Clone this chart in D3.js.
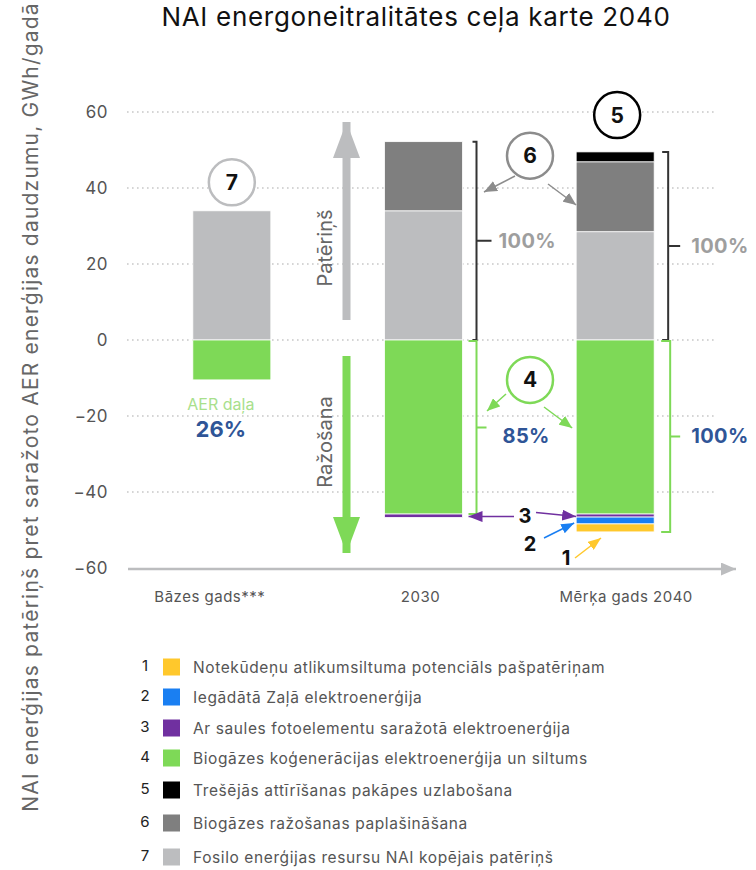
<!DOCTYPE html>
<html>
<head>
<meta charset="utf-8">
<script src="https://cdn.jsdelivr.net/npm/d3@7"></script>
<style>
    body { margin: 0; background: #fff; }
    svg { font-family: Inter, "Open Sans", sans-serif; }
</style>
</head>
<body>
<div id="chart"></div>
<script>
// chart values
var categories = ["Bāzes gads***", "2030", "Mērķa gads 2040"];
var fossil = [34, 34, 28.5];          // 7
var biogasExpansion = [0, 18.2, 18.4]; // 6
var tertiary = [0, 0, 2.6];            // 5
var biogasChp = [-10.5, -45.8, -45.8]; // 4
var solar = [0, -0.9, -0.8];           // 3
var greenPower = [0, 0, -1.8];         // 2
var wastewaterHeat = [0, 0, -2.1];     // 1
var yTicks = [-60, -40, -20, 0, 20, 40, 60];
var gridTicks = [-40, -20, 0, 20, 40, 60];

var legendItems = [
    { n: "1", key: "wastewaterHeat", text: "Notekūdeņu atlikumsiltuma potenciāls pašpatēriņam" },
    { n: "2", key: "greenPower", text: "Iegādātā Zaļā elektroenerģija" },
    { n: "3", key: "solar", text: "Ar saules fotoelementu saražotā elektroenerģija" },
    { n: "4", key: "biogasChp", text: "Biogāzes koģenerācijas elektroenerģija un siltums" },
    { n: "5", key: "tertiary", text: "Trešējās attīrīšanas pakāpes uzlabošana" },
    { n: "6", key: "biogasExpansion", text: "Biogāzes ražošanas paplašināšana" },
    { n: "7", key: "fossil", text: "Fosilo enerģijas resursu NAI kopējais patēriņš" }
];

var colors = {
    fossil: "#bcbdbf",
    biogasExpansion: "#7f7f7f",
    tertiary: "#000000",
    biogasChp: "#7ed957",
    solar: "#7030a0",
    greenPower: "#1a7ff2",
    wastewaterHeat: "#ffc82c"
};

var width = 756;
var height = 870;

var svg = d3.select("#chart")
    .append("svg")
    .attr("width", width)
    .attr("height", height);

var x = d3.scaleBand()
    .domain(categories)
    .range([136, 711])
    .paddingInner(0.593)
    .paddingOuter(0.2965);

var y = d3.scaleLinear()
    .domain([-60, 60])
    .range([568, 112]);

var keys = ["fossil", "biogasExpansion", "tertiary", "biogasChp", "solar", "greenPower", "wastewaterHeat"];
var series = { fossil: fossil, biogasExpansion: biogasExpansion, tertiary: tertiary, biogasChp: biogasChp,
    solar: solar, greenPower: greenPower, wastewaterHeat: wastewaterHeat };

var rows = categories.map(function (c, i) {
    var r = { cat: c };
    keys.forEach(function (k) { r[k] = series[k][i]; });
    return r;
});

var stacked = d3.stack().keys(keys).offset(d3.stackOffsetDiverging)(rows);

// arrow heads
var defs = svg.append("defs");
function marker(id, color, w, h) {
    defs.append("marker")
        .attr("id", id)
        .attr("viewBox", "0 0 10 10")
        .attr("refX", 10)
        .attr("refY", 5)
        .attr("markerUnits", "userSpaceOnUse")
        .attr("markerWidth", w)
        .attr("markerHeight", h)
        .attr("preserveAspectRatio", "none")
        .attr("orient", "auto")
        .append("path")
        .attr("d", "M0,0 L10,5 L0,10 Z")
        .attr("fill", color);
}
marker("m-gray", "#8c8c8c", 13, 11);
marker("m-green", "#7ed957", 13, 11);
marker("m-purple", "#7030a0", 14, 11);
marker("m-blue", "#1a7ff2", 13, 10);
marker("m-yellow", "#ffc82c", 13, 10);
marker("m-axis", "#bcbdbf", 15, 13);
marker("m-bigGray", "#bcbdbf", 36, 27);
marker("m-bigGreen", "#7ed957", 36, 27);

// title
svg.append("text")
    .attr("x", 416)
    .attr("y", 26)
    .attr("text-anchor", "middle")
    .style("font-size", "26px")
    .style("letter-spacing", "0.7px")
    .style("fill", "#111")
    .text("NAI energoneitralitātes ceļa karte 2040");

// y axis title
svg.append("text")
    .attr("transform", "translate(38,407) rotate(-90)")
    .attr("text-anchor", "middle")
    .style("font-size", "21px")
    .style("letter-spacing", "1.2px")
    .style("fill", "#666")
    .text("NAI enerģijas patēriņš pret saražoto AER enerģijas daudzumu, GWh/gadā");

// grid
svg.append("g")
    .selectAll("line")
    .data(gridTicks)
    .enter()
    .append("line")
    .attr("x1", 127)
    .attr("x2", 715)
    .attr("y1", function (d) { return y(d); })
    .attr("y2", function (d) { return y(d); })
    .style("stroke", "#c8c8c8")
    .style("stroke-width", 1.6)
    .style("stroke-dasharray", "1.6,3.4");

// y axis labels
var yAxis = svg.append("g")
    .attr("transform", "translate(111,0)")
    .call(d3.axisLeft(y).tickValues(yTicks).tickSize(0).tickPadding(3));
yAxis.select(".domain").remove();
yAxis.selectAll("text")
    .style("font-family", "Inter, sans-serif")
    .style("font-size", "17px")
    .style("letter-spacing", "0.5px")
    .style("fill", "#555");

// x axis line with arrow
svg.append("line")
    .attr("x1", 128)
    .attr("x2", 736)
    .attr("y1", y(-60) + 1)
    .attr("y2", y(-60) + 1)
    .style("stroke", "#bcbdbf")
    .style("stroke-width", 2.5)
    .attr("marker-end", "url(#m-axis)");

var labelShift = [-22, -3, 11];
svg.append("g")
    .selectAll("text")
    .data(categories)
    .enter()
    .append("text")
    .attr("x", function (d, i) { return x(d) + x.bandwidth() / 2 + labelShift[i]; })
    .attr("y", 602)
    .attr("text-anchor", "middle")
    .style("font-size", "15px")
    .style("letter-spacing", "0.5px")
    .style("fill", "#555")
    .text(function (d) { return d; });

// bars
svg.append("g")
    .selectAll("g")
    .data(stacked)
    .enter()
    .append("g")
    .style("fill", function (s) { return colors[s.key]; })
    .selectAll("rect")
    .data(function (s) { return s.filter(function (d) { return d[1] - d[0] !== 0; }); })
    .enter()
    .append("rect")
    .attr("x", function (d) { return x(d.data.cat); })
    .attr("width", x.bandwidth())
    .attr("y", function (d) { return y(d[1]); })
    .attr("height", function (d) { return y(d[0]) - y(d[1]); })
    .style("stroke", "#fff")
    .style("stroke-width", 0.8);

// big direction arrows
var ax = 346.5;
svg.append("line")
    .attr("x1", ax).attr("x2", ax)
    .attr("y1", 320).attr("y2", 122)
    .style("stroke", "#bcbdbf")
    .style("stroke-width", 8)
    .attr("marker-end", "url(#m-bigGray)");
svg.append("line")
    .attr("x1", ax).attr("x2", ax)
    .attr("y1", 356).attr("y2", 553)
    .style("stroke", "#7ed957")
    .style("stroke-width", 8)
    .attr("marker-end", "url(#m-bigGreen)");

svg.append("text")
    .attr("transform", "translate(332,248) rotate(-90)")
    .attr("text-anchor", "middle")
    .style("font-size", "20px")
    .style("fill", "#666")
    .text("Patēriņš");
svg.append("text")
    .attr("transform", "translate(332,442) rotate(-90)")
    .attr("text-anchor", "middle")
    .style("font-size", "20px")
    .style("fill", "#666")
    .text("Ražošana");

// brackets
function posTotal(i) { return fossil[i] + biogasExpansion[i] + tertiary[i]; }
function bracket(xb, yTop, yBot, color, tickLeft, tickRight) {
    var midY = (yTop + yBot) / 2;
    svg.append("path")
        .attr("d", "M" + (xb - tickLeft) + "," + yTop + " H" + xb + " V" + yBot + " H" + (xb - tickLeft) +
            " M" + xb + "," + midY + " H" + (xb + tickRight))
        .style("fill", "none")
        .style("stroke", color)
        .style("stroke-width", 2);
    return midY;
}
function pctLabel(px, py, txt, color) {
    svg.append("text")
        .attr("x", px)
        .attr("y", py)
        .attr("dy", "0.35em")
        .style("font-size", "20px")
        .style("font-weight", "bold")
        .style("letter-spacing", "0.4px")
        .style("fill", color)
        .text(txt);
}

var r2030 = x(categories[1]) + x.bandwidth();
var r2040 = x(categories[2]) + x.bandwidth();

var m1 = bracket(r2030 + 14, y(posTotal(1)), y(0), "#333", 4, 15);
pctLabel(r2030 + 36, m1, "100%", "#9e9e9e");
var m2 = bracket(r2030 + 14, y(0) + 1, y(biogasChp[1]), "#7ed957", 8, 10);
pctLabel(r2030 + 40, m2 + 8, "85%", "#2f5597");
var m3 = bracket(r2040 + 14, y(posTotal(2)), y(0), "#333", 6, 12);
pctLabel(r2040 + 37, m3, "100%", "#9e9e9e");
var negTotal2040 = biogasChp[2] + solar[2] + greenPower[2] + wastewaterHeat[2];
var m4 = bracket(r2040 + 16, y(0) + 1, y(negTotal2040), "#7ed957", 9, 10);
pctLabel(r2040 + 37, m4, "100%", "#2f5597");

// base year share label
var cBase = x(categories[0]) + x.bandwidth() / 2 - 11;
svg.append("text")
    .attr("x", cBase).attr("y", 410)
    .attr("text-anchor", "middle")
    .style("font-size", "16px")
    .style("fill", "#a8e08c")
    .text("AER daļa");
svg.append("text")
    .attr("x", cBase).attr("y", 437)
    .attr("text-anchor", "middle")
    .style("font-size", "22px")
    .style("font-weight", "bold")
    .style("fill", "#2f5597")
    .text("26%");

// numbered circles
function badge(cx, cy, num, color, sw) {
    svg.append("circle")
        .attr("cx", cx).attr("cy", cy).attr("r", 23)
        .style("fill", "#fff")
        .style("stroke", color)
        .style("stroke-width", sw);
    svg.append("text")
        .attr("x", cx).attr("y", cy)
        .attr("dy", "0.36em")
        .attr("text-anchor", "middle")
        .style("font-size", "21px")
        .style("font-weight", "bold")
        .style("fill", "#111")
        .text(num);
}
function arrow(x1, y1, x2, y2, color, m) {
    svg.append("line")
        .attr("x1", x1).attr("y1", y1).attr("x2", x2).attr("y2", y2)
        .style("stroke", color)
        .style("stroke-width", 1.5)
        .attr("marker-end", "url(#" + m + ")");
}

var c0 = x(categories[0]) + x.bandwidth() / 2;
var c2 = x(categories[2]) + x.bandwidth() / 2;
var l2040 = x(categories[2]);

badge(c0, y(41.5), "7", "#bcbdbf", 2.5);
badge(c2 + 2, y(59.2), "5", "#000", 2.5);

badge(530, y(48.5), "6", "#8c8c8c", 2.5);
arrow(515, 176, 484, 192, "#8c8c8c", "m-gray");
arrow(548, 184, l2040, 205, "#8c8c8c", "m-gray");

badge(530, y(-10.5), "4", "#7ed957", 2.5);
arrow(506, 394, 487, 411, "#7ed957", "m-green");
arrow(544, 407, l2040 - 4, 428, "#7ed957", "m-green");

var ySolar = y(biogasChp[2]) + 1.5;
svg.append("text").attr("x", 525).attr("y", ySolar).attr("dy", "0.36em").attr("text-anchor", "middle")
    .style("font-size", "20px").style("font-weight", "bold").style("fill", "#111").text("3");
arrow(514, ySolar + 1, r2030 + 6, ySolar + 1, "#7030a0", "m-purple");
arrow(536, ySolar - 3, l2040, ySolar + 1, "#7030a0", "m-purple");

svg.append("text").attr("x", 530).attr("y", 544).attr("dy", "0.36em").attr("text-anchor", "middle")
    .style("font-size", "20px").style("font-weight", "bold").style("fill", "#111").text("2");
arrow(544, 538, l2040 - 2, 523, "#1a7ff2", "m-blue");

svg.append("text").attr("x", 566).attr("y", 558).attr("dy", "0.36em").attr("text-anchor", "middle")
    .style("font-size", "20px").style("font-weight", "bold").style("fill", "#111").text("1");
arrow(575, 558, 601, 538, "#ffc82c", "m-yellow");

// legend
var legendY = [667, 697, 728, 758, 790, 823, 857];
var legend = svg.append("g")
    .selectAll("g")
    .data(legendItems)
    .enter()
    .append("g")
    .attr("transform", function (d, i) { return "translate(0," + legendY[i] + ")"; });
legend.append("text")
    .attr("x", 145)
    .attr("dy", "0.25em")
    .attr("text-anchor", "middle")
    .style("font-size", "15px")
    .style("fill", "#222")
    .text(function (d) { return d.n; });
legend.append("rect")
    .attr("x", 163)
    .attr("y", -8.5)
    .attr("width", 17)
    .attr("height", 17)
    .style("fill", function (d) { return colors[d.key]; });
legend.append("text")
    .attr("x", 193)
    .attr("dy", "0.4em")
    .style("font-size", "15.5px")
    .style("letter-spacing", "0.6px")
    .style("fill", "#555")
    .text(function (d) { return d.text; });
</script>
</body>
</html>
